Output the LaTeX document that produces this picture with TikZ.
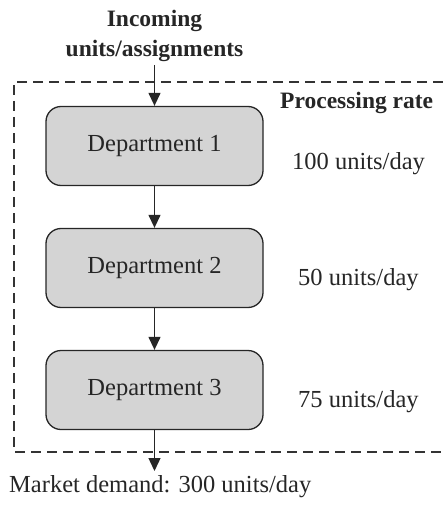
\documentclass[tikz,border=0pt]{standalone}
\usepackage{fontspec}
\setmainfont{Liberation Serif}
\usetikzlibrary{arrows.meta}
\definecolor{boxgray}{RGB}{212,212,212}
\begin{document}
\begin{tikzpicture}[x=1pt,y=-1pt,
  dept/.style={draw=black!85,line width=1.3pt,fill=boxgray,rounded corners=15pt,
    minimum width=217pt,minimum height=79pt,inner sep=0pt,font=\fontsize{24.5}{28}\selectfont,text=black!85},
  lbl/.style={font=\fontsize{24.5}{28}\selectfont,text=black!85,inner sep=0pt},
  blbl/.style={font=\bfseries\fontsize{23.5}{30}\selectfont,text=black!85,inner sep=0pt},
  conn/.style={line width=1.3pt,draw=black!85,-{Triangle[length=13pt,width=12pt]}}]
\useasboundingbox (0,0) rectangle (443,508);
% dashed frame (right side cut off)
\draw[dash pattern=on 10pt off 6pt,line width=1.3pt,black!80]
  (443,82) -- (14,82) -- (14,452) -- (443,452);
\node[dept] (d1) at (154.5,146) {Department 1};
\node[dept] (d2) at (154.5,268) {Department 2};
\node[dept] (d3) at (154.5,390) {Department 3};
\node[blbl,anchor=base] (inc1) at (154.5,27) {Incoming};
\node[blbl,anchor=base] (inc2) at (154.5,57) {units/assignments};
\coordinate (intop) at (154.5,65);
\coordinate (outbot) at (154.5,471);
\draw[conn] (intop) -- (d1.north);
\draw[conn] (d1.south) -- (d2.north);
\draw[conn] (d2.south) -- (d3.north);
\draw[conn] (d3.south) -- (outbot);
\node[blbl,anchor=base west] (pr) at (280,109) {Processing rate};
\node[lbl,anchor=base west] (r1) at (292,169) {100 units/day};
\node[lbl,anchor=base west] (r2) at (298,285) {50 units/day};
\node[lbl,anchor=base west] (r3) at (298,407) {75 units/day};
\node[lbl,anchor=base west] (md) at (9,492) {Market demand: 300 units/day};
\end{tikzpicture}
\end{document}
